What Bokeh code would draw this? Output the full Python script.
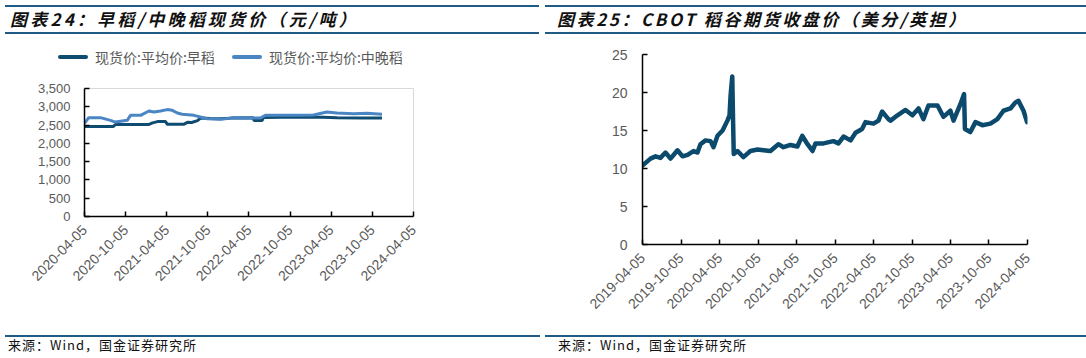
import pandas as pd
from math import pi
from bokeh.plotting import figure
from bokeh.models import (Range1d, FixedTicker, DatetimeTickFormatter, NumeralTickFormatter, Div)
from bokeh.layouts import row, column
from bokeh.embed import file_html
from bokeh.resources import INLINE

# ---------------- Chart 24 data: early rice / mid-late rice spot price (yuan/ton) ----------------
early_dates = ["2020-04-05", "2020-08-10", "2020-08-20", "2021-01-14", "2021-02-01", "2021-02-23",
               "2021-03-31", "2021-04-08", "2021-06-19", "2021-07-06", "2021-07-25", "2021-08-20",
               "2021-09-02", "2021-10-15", "2021-12-01", "2022-01-15", "2022-04-24", "2022-04-28",
               "2022-06-03", "2022-06-08", "2022-09-01", "2022-10-27", "2023-03-01", "2023-05-01",
               "2023-08-15", "2023-11-17"]
early_vals = [2460, 2460, 2515, 2515, 2560, 2595,
              2595, 2520, 2520, 2575, 2570, 2620,
              2690, 2680, 2670, 2690, 2700, 2625,
              2625, 2710, 2715, 2720, 2715, 2700,
              2695, 2690]

late_dates = ["2020-04-05", "2020-04-24", "2020-06-15", "2020-07-29", "2020-08-21", "2020-10-12",
              "2020-10-26", "2020-12-10", "2021-01-16", "2021-02-07", "2021-03-09", "2021-04-07",
              "2021-04-30", "2021-05-22", "2021-06-13", "2021-08-04", "2021-09-02", "2021-10-02",
              "2021-11-30", "2022-01-28", "2022-05-26", "2022-06-17", "2022-11-04", "2023-01-17",
              "2023-03-17", "2023-05-01", "2023-07-14", "2023-09-11", "2023-11-17"]
late_vals = [2550, 2703, 2703, 2629, 2582, 2629,
             2766, 2766, 2884, 2857, 2884, 2923,
             2903, 2829, 2794, 2766, 2720, 2675,
             2656, 2703, 2692, 2766, 2766, 2776,
             2857, 2830, 2812, 2820, 2794]

left_xticks = ["2020-04-05", "2020-10-05", "2021-04-05", "2021-10-05", "2022-04-05",
               "2022-10-05", "2023-04-05", "2023-10-05", "2024-04-05"]
left_yticks = [0, 500, 1000, 1500, 2000, 2500, 3000, 3500]
left_series = ["现货价:平均价:早稻", "现货价:平均价:中晚稻"]
left_title = "图表24：早稻/中晚稻现货价（元/吨）"

# ---------------- Chart 25 data: CBOT rough rice futures close (cents/cwt) ----------------
cbot_dates = ["2019-04-05", "2019-05-13", "2019-06-06", "2019-06-29", "2019-07-23", "2019-08-16",
              "2019-09-18", "2019-10-12", "2019-11-05", "2019-12-03", "2019-12-22", "2020-01-05",
              "2020-01-29", "2020-02-22", "2020-03-07", "2020-03-26", "2020-04-19", "2020-05-12",
              "2020-05-22", "2020-05-27", "2020-06-04", "2020-06-08", "2020-06-11", "2020-06-29",
              "2020-07-27", "2020-08-29", "2020-10-02", "2020-10-30", "2020-12-02", "2021-01-09",
              "2021-02-02", "2021-03-07", "2021-04-09", "2021-05-02", "2021-05-27", "2021-06-20",
              "2021-07-04", "2021-08-11", "2021-09-27", "2021-10-21", "2021-11-14", "2021-12-17",
              "2022-01-10", "2022-02-10", "2022-02-26", "2022-04-05", "2022-04-29", "2022-05-16",
              "2022-06-15", "2022-06-25", "2022-07-28", "2022-09-04", "2022-10-07", "2022-11-05",
              "2022-11-28", "2022-12-22", "2023-02-03", "2023-03-03", "2023-04-05", "2023-04-20",
              "2023-05-23", "2023-06-09", "2023-06-13", "2023-07-09", "2023-08-02", "2023-09-04",
              "2023-10-12", "2023-11-14", "2023-12-13", "2024-01-15", "2024-02-08", "2024-02-22",
              "2024-03-17", "2024-04-03"]
cbot_vals = [10.4, 11.3, 11.6, 11.4, 12.1, 11.3,
             12.4, 11.6, 11.8, 12.3, 12.1, 13.2,
             13.7, 13.6, 12.8, 14.3, 15.0, 16.3,
             17.0, 19.6, 22.1, 16.0, 11.9, 12.3,
             11.5, 12.3, 12.5, 12.4, 12.3, 13.2,
             12.8, 13.1, 12.9, 14.3, 13.2, 12.3,
             13.3, 13.3, 13.6, 13.3, 14.2, 13.7,
             14.7, 15.2, 16.1, 15.9, 16.3, 17.5,
             16.5, 16.3, 17.0, 17.7, 17.0, 17.9,
             16.5, 18.3, 18.3, 16.8, 17.6, 16.3,
             18.5, 19.8, 15.2, 14.8, 16.1, 15.7,
             15.9, 16.5, 17.6, 17.9, 18.7, 18.9,
             17.6, 16.1]

right_xticks = ["2019-04-05", "2019-10-05", "2020-04-05", "2020-10-05", "2021-04-05", "2021-10-05",
                "2022-04-05", "2022-10-05", "2023-04-05", "2023-10-05", "2024-04-05"]
right_yticks = [0, 5, 10, 15, 20, 25]
right_title = "图表25：CBOT 稻谷期货收盘价（美分/英担）"
source_text = "来源：Wind，国金证券研究所"

# ---------------- styling ----------------
DARK = "#0F4C72"
LIGHT = "#4A86C4"
CBOT = "#0B4A6C"
BAR = "#1F5B85"
TICK = "#595959"
FONT = "Liberation Sans"
CJK = "Noto Sans CJK SC"
COL_W = 543
HDR_H = 36
LEG_H = 34
FIG_H = 298
FTR_H = 24


def ms(dates):
    return [(pd.Timestamp(d) - pd.Timestamp("1970-01-01")).total_seconds() * 1000.0 for d in dates]


def style_axes(p, ysize, xsize, ystand, xstand):
    for ax in (p.xaxis[0], p.yaxis[0]):
        ax.axis_line_color = "black"
        ax.axis_line_width = 1.5
        ax.major_tick_line_color = "black"
        ax.major_tick_line_width = 1.5
        ax.major_tick_in = 5
        ax.major_tick_out = 0
        ax.minor_tick_line_color = None
        ax.major_label_text_color = TICK
        ax.major_label_text_font = FONT
    p.yaxis[0].major_label_text_font_size = ysize
    p.xaxis[0].major_label_text_font_size = xsize
    p.yaxis[0].major_label_standoff = ystand
    p.xaxis[0].major_label_standoff = xstand
    p.xaxis[0].major_label_orientation = pi / 4
    fmt = "%Y-%m-%d"
    p.xaxis[0].formatter = DatetimeTickFormatter(days=fmt, months=fmt, years=fmt, hours=fmt,
                                                 hourmin=fmt, minutes=fmt, minsec=fmt,
                                                 seconds=fmt, milliseconds=fmt, microseconds=fmt)
    p.xgrid.visible = False
    p.ygrid.visible = False


# ---------------- left figure ----------------
lx = ms(left_xticks)
pL_h = FIG_H - LEG_H
pL = figure(width=COL_W, height=pL_h, x_axis_type="datetime", output_backend="svg",
            toolbar_location=None, x_range=Range1d(lx[0], lx[-1]),
            y_range=Range1d(left_yticks[0], left_yticks[-1]),
            min_border_left=84, min_border_right=130,
            min_border_top=88 - HDR_H - LEG_H, min_border_bottom=pL_h - (216 - HDR_H - LEG_H))
pL.outline_line_color = "#D9D9D9"
pL.outline_line_width = 1
pL.background_fill_color = "white"
pL.border_fill_color = "white"
pL.line(pd.to_datetime(early_dates), early_vals, line_color=DARK, line_width=3)
pL.line(pd.to_datetime(late_dates), late_vals, line_color=LIGHT, line_width=3)
style_axes(pL, "13px", "14px", 14, 11)
pL.xaxis[0].ticker = FixedTicker(ticks=lx)
pL.yaxis[0].ticker = FixedTicker(ticks=left_yticks)
pL.yaxis[0].formatter = NumeralTickFormatter(format="0,0")

# ---------------- right figure ----------------
rx = ms(right_xticks)
pR = figure(width=COL_W, height=FIG_H, x_axis_type="datetime", output_backend="svg",
            toolbar_location=None, x_range=Range1d(rx[0], rx[-1]),
            y_range=Range1d(right_yticks[0], right_yticks[-1]),
            min_border_left=642 - COL_W, min_border_right=2 * COL_W - 1027,
            min_border_top=54 - HDR_H, min_border_bottom=FIG_H - (244 - HDR_H))
pR.outline_line_color = None
pR.background_fill_color = "white"
pR.border_fill_color = "white"
pR.line(pd.to_datetime(cbot_dates), cbot_vals, line_color=CBOT, line_width=4.5,
        line_join="round", line_cap="round")
style_axes(pR, "14px", "14px", 15, 11)
pR.xaxis[0].ticker = FixedTicker(ticks=rx)
pR.yaxis[0].ticker = FixedTicker(ticks=right_yticks)


# ---------------- header (title + optional legend) / footer bars ----------------
def header(text, line_left, line_right, text_left, spacing, legend=None):
    h = HDR_H + (LEG_H if legend else 0)
    html = (
        f'<div style="position:relative;width:{COL_W}px;height:{h}px;">'
        f'<div style="position:absolute;left:{line_left}px;width:{line_right - line_left}px;top:5px;'
        f'height:0px;border-top:2px solid {BAR};"></div>'
        f'<div style="position:absolute;left:{line_left}px;width:{line_right - line_left}px;top:32px;'
        f'height:0px;border-top:2px solid {BAR};"></div>'
        f'<div style="position:absolute;left:{text_left}px;top:10px;font-family:\'{CJK}\';'
        f'font-size:17px;font-weight:bold;font-style:italic;letter-spacing:{spacing}px;'
        f'line-height:18px;color:#111;white-space:nowrap;">{text}</div>'
    )
    if legend:
        for (label, color, x0) in legend:
            html += (
                f'<div style="position:absolute;left:{x0}px;top:55px;width:30px;height:4px;'
                f'background:{color};border-radius:2px;"></div>'
                f'<div style="position:absolute;left:{x0 + 37}px;top:48px;font-family:\'{CJK}\';'
                f'font-size:14px;line-height:18px;color:{TICK};white-space:nowrap;">{label}</div>'
            )
    html += '</div>'
    return Div(text=html, width=COL_W, height=h, margin=(0, 0, 0, 0))


def footer(text, line_left, line_right, text_left):
    html = (
        f'<div style="position:relative;width:{COL_W}px;height:{FTR_H}px;">'
        f'<div style="position:absolute;left:{line_left}px;width:{line_right - line_left}px;top:1px;'
        f'height:0px;border-top:2px solid {BAR};"></div>'
        f'<div style="position:absolute;left:{text_left}px;top:4px;font-family:\'{CJK}\';'
        f'font-size:13px;letter-spacing:1px;line-height:14px;color:#111;white-space:nowrap;">'
        f'{text}</div></div>'
    )
    return Div(text=html, width=COL_W, height=FTR_H, margin=(0, 0, 0, 0))


hL = header(left_title, 5, 539, 10, 3.2,
            legend=[(left_series[0], DARK, 58), (left_series[1], LIGHT, 232)])
hR = header(right_title, 2, COL_W, 14, 2.6)
fL = footer(source_text, 5, 540, 8)
fR = footer(source_text, 2, COL_W, 15)

layout = column(row(column(hL, pL, spacing=0), column(hR, pR, spacing=0), spacing=0),
                row(fL, fR, spacing=0), spacing=0)

open("out.html", "w").write(file_html(layout, INLINE))
